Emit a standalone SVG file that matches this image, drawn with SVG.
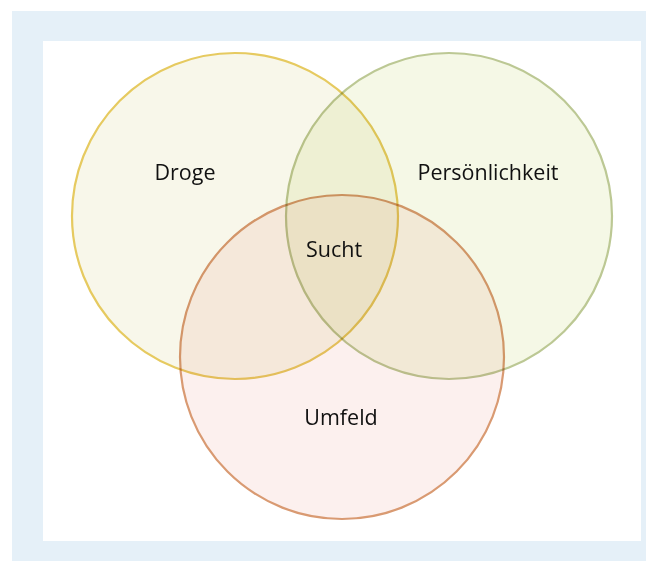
<svg xmlns="http://www.w3.org/2000/svg" width="646" height="561" viewBox="0 0 646 561">
<style>
.c{mix-blend-mode:multiply;stroke-width:2.2}
.t{font-family:"Open Sans","Noto Sans",sans-serif;font-size:21.5px;fill:#111;text-anchor:middle}
</style>
<rect x="12" y="11" width="634" height="550" fill="#e5f0f8"/>
<rect x="43" y="41" width="598" height="500" fill="#ffffff"/>
<g style="isolation:isolate">
<g id="droge"><circle class="c" cx="235" cy="216" r="163" fill="#f8f7ea" stroke="#e6ca60"/></g>
<g id="persoenlichkeit"><circle class="c" cx="449" cy="216" r="163" fill="#f5f8e6" stroke="#bcc894"/></g>
<g id="umfeld"><circle class="c" cx="342" cy="357" r="162" fill="#fcf0ee" stroke="#d99a72"/></g>
</g>
<g id="connectors"></g>
<g id="labels">
<text class="t" x="185" y="180">Droge</text>
<text class="t" x="488" y="180">Persönlichkeit</text>
<text class="t" x="334" y="257">Sucht</text>
<text class="t" x="341" y="425">Umfeld</text>
</g>
</svg>
